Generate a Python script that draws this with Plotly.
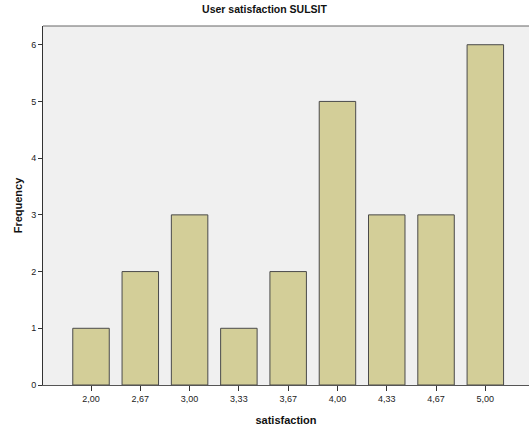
import plotly.graph_objects as go

categories = ["2,00", "2,67", "3,00", "3,33", "3,67", "4,00", "4,33", "4,67", "5,00"]
frequency = [1, 2, 3, 1, 2, 5, 3, 3, 6]
y_ticks = [0, 1, 2, 3, 4, 5, 6]

fig = go.Figure()
fig.add_trace(go.Bar(
    x=list(range(len(categories))),
    y=frequency,
    width=0.74,
    marker=dict(color="#D3CE98", line=dict(color="#4a4a4a", width=1)),
))

font_family = "Liberation Sans, Arial, sans-serif"
fig.update_layout(
    width=529, height=427,
    margin=dict(l=43, r=0, t=26, b=42),
    paper_bgcolor="white",
    plot_bgcolor="#F0F0F0",
    showlegend=False,
    font=dict(family=font_family, size=9, color="#222"),
    title=dict(text="<b>User satisfaction SULSIT</b>", x=0.5, xanchor="center",
               y=1 - 9 / 427, yanchor="middle", font=dict(size=10.5, color="#111")),
    bargap=0.26,
)
fig.add_shape(type="line", xref="x domain", yref="y domain", x0=0, x1=1, y0=1, y1=1,
              line=dict(color="#666", width=1))
fig.update_xaxes(
    tickmode="array",
    tickvals=list(range(len(categories))),
    ticktext=categories,
    range=[-0.974, 8.886],
    showgrid=False, zeroline=False,
    showline=True, linecolor="#555", linewidth=1,
    ticks="outside", ticklen=5, tickcolor="#333",
    tickfont=dict(size=9, color="#222"),
    title=dict(text="<b>satisfaction</b>", font=dict(size=11, color="#111"), standoff=13),
)
fig.update_yaxes(
    tickmode="array",
    tickvals=y_ticks,
    range=[0, 6.33],
    showgrid=False, zeroline=False,
    showline=True, linecolor="#333", linewidth=1,
    ticks="outside", ticklen=4, tickcolor="#333",
    tickfont=dict(size=9, color="#222"),
    title=dict(text="<b>Frequency</b>", font=dict(size=11, color="#111"), standoff=6),
)

fig.write_html(
    "out.html",
    config={"displayModeBar": False},
    post_script="document.body.style.margin='0px';document.body.style.overflow='hidden';",
)
